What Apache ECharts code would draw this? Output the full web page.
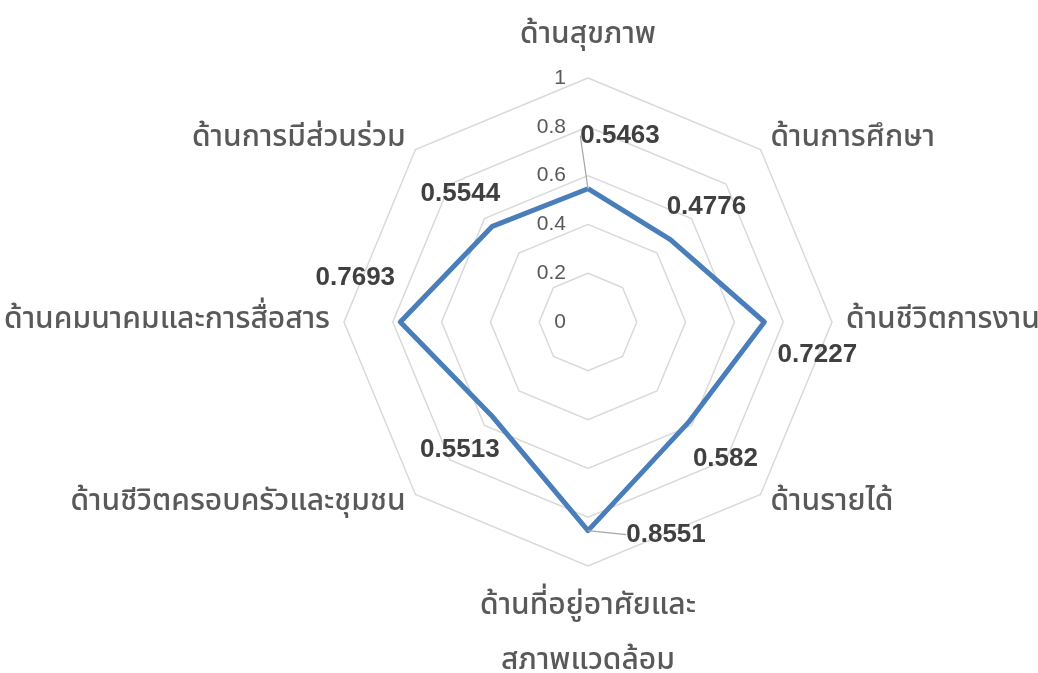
<!DOCTYPE html>
<html>
<head>
<meta charset="utf-8">
<script src="https://cdn.jsdelivr.net/npm/echarts@6/dist/echarts.min.js"></script>
<style>
    html, body { margin: 0; padding: 0; background: #fff; }
    #chart { width: 1038px; height: 673px; }
</style>
</head>
<body>
<div id="chart"></div>
<script>
// categories in clockwise order, starting at the top
const categories = [
    "ด้านสุขภาพ",
    "ด้านการศึกษา",
    "ด้านชีวิตการงาน",
    "ด้านรายได้",
    "ด้านที่อยู่อาศัยและ\nสภาพแวดล้อม",
    "ด้านชีวิตครอบครัวและชุมชน",
    "ด้านคมนาคมและการสื่อสาร",
    "ด้านการมีส่วนร่วม"
];
const values = [0.5463, 0.4776, 0.7227, 0.582, 0.8551, 0.5513, 0.7693, 0.5544];
const labelTexts = ["0.5463", "0.4776", "0.7227", "0.582", "0.8551", "0.5513", "0.7693", "0.5544"];
const tickLabels = ["0", "0.2", "0.4", "0.6", "0.8", "1"];

const thaiFont = '"Noto Sans Thai", "Noto Sans Thai UI", "Tahoma", "Noto Sans", sans-serif';
const numFont = '"Liberation Sans", Arial, sans-serif';
const center = [588, 322];
const radius = 244;

// echarts radar goes counter-clockwise, so flip the order after the first item
const ccwIdx = categories.map((c, i) => (i === 0 ? 0 : categories.length - i));

const labelOffsets = [[32, -53], [36, -33], [53, 33], [37, 36], [78, 4], [-33, 33], [-45, -44], [-32, -33]];

const chartDom = document.getElementById("chart");
const myChart = echarts.init(chartDom);
const option = {
    animation: false,
    radar: {
        center: center,
        radius: radius,
        startAngle: 90,
        splitNumber: 5,
        shape: "polygon",
        indicator: ccwIdx.map(i => ({ name: categories[i], min: 0, max: 1 })),
        axisName: {
            color: "#595959",
            fontFamily: thaiFont,
            fontWeight: 500,
            fontSize: 30,
            lineHeight: 55
        },
        nameGap: 14,
        axisLine: { show: false },
        axisTick: { show: false },
        axisLabel: { show: false },
        splitLine: { lineStyle: { color: "#d9d9d9", width: 1.5 } },
        splitArea: { show: false }
    },
    polar: {
        center: center,
        radius: radius
    },
    angleAxis: {
        type: "value",
        min: 0,
        max: 360,
        startAngle: 90,
        clockwise: true,
        show: false
    },
    radiusAxis: {
        type: "value",
        min: 0,
        max: 1,
        interval: 0.2,
        axisLine: { show: false },
        axisTick: { show: false },
        splitLine: { show: false },
        axisLabel: {
            color: "#595959",
            fontFamily: numFont,
            fontSize: 21,
            margin: 22,
            formatter: function (v) {
                return tickLabels[Math.round(v * 5)];
            }
        }
    },
    series: [
        {
            type: "radar",
            symbol: "none",
            lineStyle: { color: "#4a7ebb", width: 5 },
            data: [{ value: ccwIdx.map(i => values[i]) }]
        },
        {
            type: "scatter",
            coordinateSystem: "polar",
            symbolSize: 0,
            silent: true,
            itemStyle: { opacity: 1 },
            data: values.map((v, i) => ({
                value: [v, i * 45],
                label: {
                    show: true,
                    position: "inside",
                    formatter: labelTexts[i]
                },
                labelLine: { show: i === 0 || i === 4 }
            })),
            label: {
                color: "#404040",
                opacity: 1,
                fontFamily: numFont,
                fontWeight: "bold",
                fontSize: 26
            },
            labelLine: {
                lineStyle: { color: "#a6a6a6", width: 1.2, opacity: 1 }
            },
            labelLayout: function (params) {
                const o = labelOffsets[params.dataIndex];
                return { dx: o[0], dy: o[1] };
            }
        }
    ]
};
myChart.setOption(option);
window.addEventListener("resize", () => myChart.resize());
</script>
</body>
</html>
